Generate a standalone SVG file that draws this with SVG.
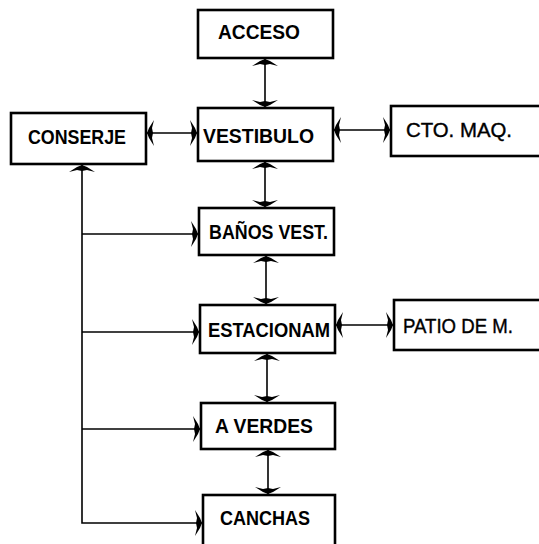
<svg xmlns="http://www.w3.org/2000/svg" width="539" height="544" viewBox="0 0 539 544">
<style>
.box{fill:#fff;stroke:#000;stroke-width:2.6}
.lbl{font-family:"Liberation Sans","DejaVu Sans",sans-serif;font-weight:bold;font-size:21px;fill:#000}
.thin{font-weight:normal;stroke:#000;stroke-width:0.4}
.c{fill:none;stroke:#000;stroke-width:1.6;marker-start:url(#ah);marker-end:url(#ah)}
.t{fill:none;stroke:#000;stroke-width:1.6}
.e{marker-end:url(#ah)}
.s{marker-start:url(#ah)}
</style>
<defs>
<marker id="ah" markerUnits="userSpaceOnUse" viewBox="-10 -15 12 30" refX="0" refY="0" markerWidth="12" markerHeight="30" orient="auto-start-reverse">
<path d="M0,0 L-2,-5 L-7,-13 L-5,-5 L-6,0 L-5,5 L-7,13 L-2,5 Z" fill="#000"/>
</marker>
</defs>
<rect width="539" height="544" fill="#fff"/>
<g id="connectors">
<line class="c" x1="265" y1="59" x2="265" y2="107"/>
<line class="c" x1="147" y1="133" x2="197" y2="133"/>
<line class="c" x1="334" y1="130" x2="390" y2="130"/>
<line class="c" x1="265" y1="162" x2="265" y2="207"/>
<line class="c" x1="266" y1="256" x2="266" y2="304"/>
<line class="c" x1="336" y1="325" x2="393" y2="325"/>
<line class="c" x1="267" y1="354" x2="267" y2="402"/>
<line class="c" x1="268" y1="450" x2="268" y2="494"/>
<path class="t s e" d="M82,165 V523 H202"/>
<line class="t e" x1="82" y1="234" x2="198" y2="234"/>
<line class="t e" x1="82" y1="332" x2="199" y2="332"/>
<line class="t e" x1="82" y1="429" x2="200" y2="429"/>
</g>
<g id="acceso"><rect class="box" x="198" y="10" width="135" height="48"/><text class="lbl" x="218" y="39" textLength="82" lengthAdjust="spacingAndGlyphs">ACCESO</text></g>
<g id="vestibulo"><rect class="box" x="198" y="108" width="135" height="53"/><text class="lbl" x="203" y="143" textLength="111" lengthAdjust="spacingAndGlyphs">VESTIBULO</text></g>
<g id="conserje"><rect class="box" x="11" y="113" width="135" height="51"/><text class="lbl" x="28" y="144" textLength="98" lengthAdjust="spacingAndGlyphs">CONSERJE</text></g>
<g id="cto-maq"><rect class="box" x="391" y="106" width="160" height="50"/><text class="lbl thin" x="406" y="137" textLength="106" lengthAdjust="spacingAndGlyphs">CTO. MAQ.</text></g>
<g id="banos-vest"><rect class="box" x="199" y="208" width="135" height="47"/><text class="lbl" x="209" y="239" textLength="119" lengthAdjust="spacingAndGlyphs">BAÑOS VEST.</text></g>
<g id="estacionam"><rect class="box" x="200" y="305" width="135" height="48"/><text class="lbl" x="208" y="337" textLength="122" lengthAdjust="spacingAndGlyphs">ESTACIONAM</text></g>
<g id="patio-de-m"><rect class="box" x="394" y="300" width="160" height="50"/><text class="lbl thin" x="403" y="333" textLength="110" lengthAdjust="spacingAndGlyphs">PATIO DE M.</text></g>
<g id="a-verdes"><rect class="box" x="201" y="403" width="134" height="46"/><text class="lbl" x="215" y="433" textLength="98" lengthAdjust="spacingAndGlyphs">A VERDES</text></g>
<g id="canchas"><rect class="box" x="203" y="495" width="132" height="52"/><text class="lbl" x="220" y="525" textLength="90" lengthAdjust="spacingAndGlyphs">CANCHAS</text></g>
</svg>
